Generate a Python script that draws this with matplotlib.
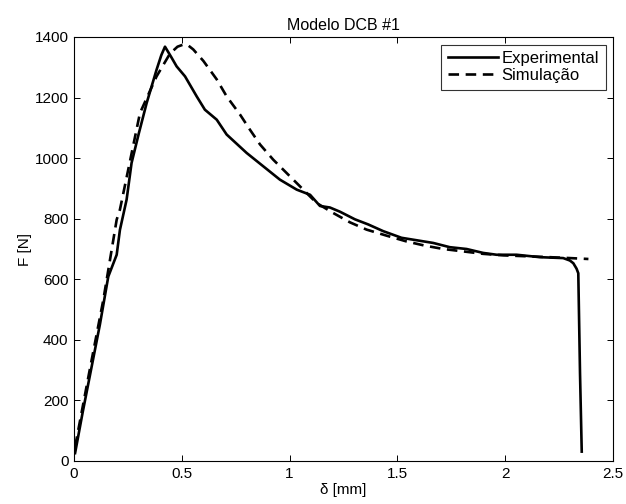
import matplotlib
matplotlib.use("Agg")
import matplotlib.pyplot as plt

plt.rcParams['font.family'] = ['Liberation Sans', 'DejaVu Sans']

exp_x = [0.005, 0.04, 0.082, 0.12, 0.159, 0.198, 0.213, 0.244, 0.267, 0.30, 0.337, 0.383, 0.405, 0.422,
         0.45, 0.476, 0.515, 0.569, 0.607, 0.662, 0.708, 0.801, 0.878, 0.955, 1.033, 1.095, 1.141, 1.187,
         1.234, 1.303, 1.365, 1.434, 1.519, 1.666, 1.743, 1.821, 1.898, 1.960, 2.053, 2.161, 2.269,
         2.300, 2.316, 2.331, 2.339, 2.347, 2.355]
exp_f = [26, 160, 312, 450, 609, 681, 763, 863, 984, 1080, 1182, 1292, 1340, 1368,
         1335, 1303, 1270, 1204, 1160, 1127, 1078, 1017, 973, 929, 896, 879, 842, 837,
         823, 798, 781, 759, 737, 720, 706, 700, 687, 681, 681, 673, 670,
         662, 653, 635, 620, 290, 31]

sim_x = [0.005, 0.07, 0.136, 0.198, 0.213, 0.306, 0.383, 0.445, 0.48, 0.507, 0.53, 0.553, 0.600, 0.662, 0.708,
         0.770, 0.816, 0.863, 0.924, 0.986, 1.048, 1.125, 1.202, 1.280, 1.357, 1.450, 1.542, 1.628,
         1.713, 1.806, 1.898, 1.991, 2.099, 2.207, 2.300, 2.386]
sim_f = [47, 290, 532, 797, 830, 1149, 1270, 1345, 1368, 1375, 1372, 1359, 1321, 1260, 1204,
         1144, 1094, 1045, 995, 951, 907, 852, 819, 788, 764, 744, 725, 711,
         700, 692, 684, 679, 676, 673, 670, 667]

xticks = [0, 0.5, 1, 1.5, 2, 2.5]
xticklabels = ['0', '0.5', '1', '1.5', '2', '2.5']
yticks = [0, 200, 400, 600, 800, 1000, 1200, 1400]

fig = plt.figure(figsize=(6.26, 5.04), dpi=100)
ax = fig.add_axes([74/626, 43/504, 539/626, 424/504])
ax.plot(exp_x, exp_f, color='black', lw=1.9, label='Experimental')
ax.plot(sim_x, sim_f, color='black', lw=1.9, ls=(0, (4, 2.5)), label='Simulação')
ax.set_xlim(0, 2.5)
ax.set_ylim(0, 1400)
ax.set_xticks(xticks)
ax.set_xticklabels(xticklabels)
ax.set_yticks(yticks)
ax.tick_params(direction='in', top=True, right=True, labelsize=11, length=4.3, width=0.7, pad=4)
for s in ax.spines.values():
    s.set_linewidth(0.8)
ax.set_title('Modelo DCB #1', fontsize=11.5, pad=5)
ax.set_xlabel('δ [mm]', fontsize=11, labelpad=2)
ax.set_ylabel('F [N]', fontsize=11, labelpad=2)
leg = ax.legend(loc='upper right', fontsize=12, frameon=True, fancybox=False, edgecolor='black',
                handlelength=3.0, handletextpad=0.2, borderpad=0.4, labelspacing=0.1,
                borderaxespad=0.45)
leg.get_frame().set_linewidth(0.8)
fig.savefig('out.png', dpi=100)
